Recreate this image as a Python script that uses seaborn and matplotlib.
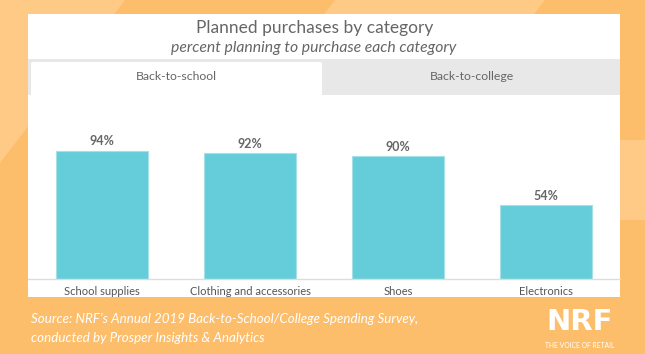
import matplotlib
matplotlib.use("Agg")
import matplotlib.pyplot as plt
import seaborn as sns
import pandas as pd
from matplotlib.patches import Rectangle, Polygon, FancyBboxPatch

categories = ["School supplies", "Clothing and accessories", "Shoes", "Electronics"]
values = [94, 92, 90, 54]
value_labels = ["94%", "92%", "90%", "54%"]
tab_labels = ["Back-to-school", "Back-to-college"]
title = "Planned purchases by category"
subtitle = "percent planning to purchase each category"
source = ["Source: NRF\u2019s Annual 2019 Back-to-School/College Spending Survey,",
          "conducted by Prosper Insights & Analytics"]

W, H = 645, 354
sns.set_theme(style="white")
plt.rcParams['font.family'] = ['Lato', 'DejaVu Sans']

fig = plt.figure(figsize=(W / 100, H / 100), dpi=100)
fig.patch.set_facecolor("#FDBE6B")

def P(x, y):
    return (x / W, 1 - y / H)

LIGHT = "#FECA86"
s = 0.77
# decorative background stripes
fig.patches.append(Polygon([P(0, 0), P(125, 0), P(0, 163)], closed=True,
                           transform=fig.transFigure, facecolor=LIGHT, edgecolor="none", zorder=0))
fig.patches.append(Polygon([P(335, 0), P(545, 0), P(545 - s * 60, 60), P(335 - s * 60, 60)], closed=True,
                           transform=fig.transFigure, facecolor=LIGHT, edgecolor="none", zorder=0))
fig.patches.append(Polygon([P(645, 140), P(645, 220), P(589, 220), P(645 - 0.71 * 140 + 0, 140)], closed=True,
                           transform=fig.transFigure, facecolor=LIGHT, edgecolor="none", zorder=0))
# white panel
x0, y0 = P(28, 297)
fig.patches.append(Rectangle((x0, y0), 592 / W, 283 / H, transform=fig.transFigure,
                             facecolor="white", edgecolor="none", zorder=1))
# tab bar (gray)
tx, ty = P(28, 95)
fig.patches.append(Rectangle((tx, ty), 592 / W, 36 / H, transform=fig.transFigure,
                             facecolor="#E8E8E8", edgecolor="none", zorder=2))
# active tab (white)
ax_, ay_ = P(31, 95)
fig.patches.append(FancyBboxPatch((ax_, ay_), 291 / W, 33 / H,
                                  boxstyle="round,pad=0,rounding_size=0.004",
                                  transform=fig.transFigure, facecolor="white",
                                  edgecolor="none", zorder=3))
fig.patches.append(Rectangle((ax_, ay_), 291 / W, 10 / H, transform=fig.transFigure,
                             facecolor="white", edgecolor="none", zorder=3))

TXT = "#666666"
fig.text(*P(315, 28), title, ha="center", va="center", fontsize=12.5, color=TXT, zorder=5)
fig.text(*P(314, 48), subtitle, ha="center", va="center", fontsize=11.3, color=TXT,
         style="italic", zorder=5)
fig.text(*P(176, 77), tab_labels[0], ha="center", va="center", fontsize=8.8, color=TXT, zorder=5)
fig.text(*P(472, 77), tab_labels[1], ha="center", va="center", fontsize=8.8, color=TXT, zorder=5)

fig.text(*P(31, 319), source[0], ha="left", va="center", fontsize=9.6, color="white",
         style="italic", zorder=5)
fig.text(*P(31, 338), source[1], ha="left", va="center", fontsize=9.6, color="white",
         style="italic", zorder=5)
# logo
fig.text(*P(580, 322), "NRF", ha="center", va="center", fontsize=21, color="white",
         fontweight="bold", family=["DejaVu Sans"], zorder=5)
fig.text(*P(580, 345), "THE VOICE OF RETAIL", ha="center", va="center", fontsize=4.9,
         color="white", zorder=5)

# axes
bx, by = P(28, 279)
ax = fig.add_axes([bx, by, 592 / W, (279 - 95) / H])
ax.set_facecolor("none")
ax.set_zorder(4)
df = pd.DataFrame({"category": categories, "value": values})
sns.barplot(data=df, x="category", y="value", color="#65CDD9", saturation=1,
            width=0.615, edgecolor="#A3E0E8", linewidth=0.8, ax=ax)
ax.set_ylim(0, (279 - 95) / 1.367)
ax.set_xlim(-0.5, 3.5)
for i, (v, lab) in enumerate(zip(values, value_labels)):
    ax.annotate(lab, (i, v), xytext=(0, 6.5), textcoords="offset points", ha="center",
                va="center", fontsize=9, fontweight="bold", color=TXT)
ax.set_xlabel("")
ax.set_ylabel("")
ax.set_yticks([])
ax.tick_params(axis="x", length=0, pad=5, labelsize=8, labelcolor="#555555")
for sp in ["top", "left", "right"]:
    ax.spines[sp].set_visible(False)
ax.spines["bottom"].set_color("#DDDDDD")
ax.spines["bottom"].set_linewidth(1)

fig.savefig("out.png", dpi=100, facecolor=fig.get_facecolor())
